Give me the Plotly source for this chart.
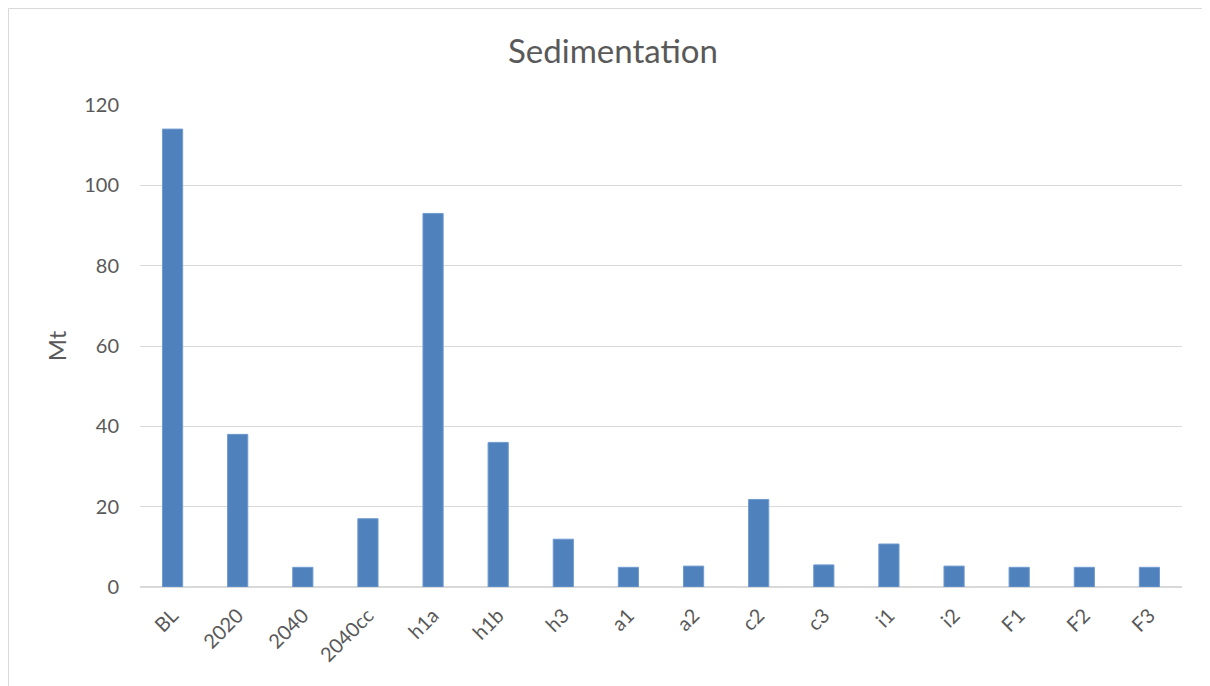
import plotly.graph_objects as go

categories = ["BL", "2020", "2040", "2040cc", "h1a", "h1b", "h3", "a1", "a2",
              "c2", "c3", "i1", "i2", "F1", "F2", "F3"]
sedimentation_mt = [114, 38, 4.9, 17, 93, 36, 11.9, 4.9, 5.2, 21.8, 5.5, 10.7,
                    5.2, 4.9, 4.9, 4.9]
y_ticks = [0, 20, 40, 60, 80, 100, 120]

# page body adds an 8px offset; positions below are in figure pixels
W, H = 1210, 686
OFF = 8
L, T = 140 - OFF, 105 - OFF
R = W - (1182 - OFF)
B = H - (587 - OFF)
pw, ph = W - L - R, H - T - B


def px(x):
    return (x - L) / pw


def py(y):
    return (H - B - y) / ph


fig = go.Figure(go.Bar(
    x=categories, y=sedimentation_mt,
    marker=dict(color="#4f81bd", line=dict(color="#6f9ad0", width=1)),
))

fig.update_layout(
    width=W, height=H,
    margin=dict(l=L, r=R, t=T, b=B),
    paper_bgcolor="white", plot_bgcolor="white",
    font=dict(family="Lato, 'Open Sans', sans-serif", color="#595959", size=20),
    title=dict(text="Sedimentation", x=0.5, xanchor="center", y=1 - 43 / H,
               yanchor="middle", font=dict(size=33, color="#595959")),
    bargap=0.69,
    showlegend=False,
    xaxis=dict(tickangle=-45, showgrid=False, showline=False, ticks="",
               ticklabelstandoff=12,
               tickfont=dict(size=20, color="#595959")),
    yaxis=dict(range=[0, 120], tickvals=y_ticks, showgrid=True,
               gridcolor="#d9d9d9", gridwidth=1, zeroline=True,
               zerolinecolor="#d9d9d9", zerolinewidth=2, ticks="",
               ticklabelstandoff=20,
               tickfont=dict(size=20, color="#595959"),
               title=dict(text="Mt", font=dict(size=24, color="#595959"),
                          standoff=10)),
    shapes=[dict(type="rect", xref="paper", yref="paper",
                 x0=px(0.5), x1=px(1201), y0=py(0.5), y1=py(720),
                 line=dict(color="#d9d9d9", width=1), layer="below")],
)

fig.write_html("out.html")
